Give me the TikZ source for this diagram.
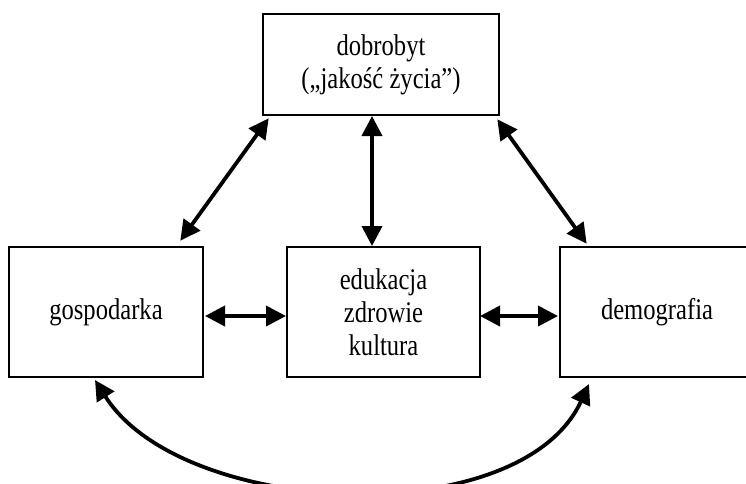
\documentclass[tikz,border=0pt]{standalone}
\usepackage{fontspec}
\setmainfont[FakeStretch=0.82]{Liberation Serif}
\usetikzlibrary{arrows.meta,calc}
\begin{document}
\begin{tikzpicture}[x=1pt,y=-1pt,
  box/.style={draw,line width=2.6pt,inner sep=0pt,align=center,
    font=\fontsize{30}{33}\selectfont},
  link/.style={line width=3.8pt,
    {Triangle[length=20pt,width=20pt]}-{Triangle[length=20pt,width=20pt]}}]
\useasboundingbox (0,0) rectangle (746,483);
\node[box,minimum width=236pt,minimum height=101pt] (t) at (381,64.5)
  {dobrobyt\\(„jakość życia”)};
\node[box,minimum width=194pt,minimum height=130pt] (g) at (106,312) {gospodarka};
\node[box,minimum width=193pt,minimum height=130pt] (m) at (383.5,312)
  {edukacja\\zdrowie\\kultura};
\node[box,minimum width=194pt,minimum height=130pt] (d) at (657,312) {demografia};
\coordinate (tl) at ($(t.south west)+(7,2)$);
\coordinate (gr) at ($(g.north east)+(-24,-5)$);
\coordinate (tr) at ($(t.south east)+(-3,3)$);
\coordinate (dl) at ($(d.north west)+(28,-2)$);
\coordinate (tm) at (372,116);
\coordinate (mt) at (372,246);
\coordinate (ge) at (205,316);
\coordinate (mw) at (286,316);
\coordinate (me) at (480,316);
\coordinate (dw) at (558,316);
\coordinate (gb) at (95,380);
\coordinate (db) at (589,384);
\draw[link] (tl) -- (gr);
\draw[link] (tr) -- (dl);
\draw[link] (tm) -- (mt);
\draw[link] (ge) -- (mw);
\draw[link] (me) -- (dw);
\draw[link] (gb) .. controls (182,518) and (520,533) .. (db);
\end{tikzpicture}
\end{document}
